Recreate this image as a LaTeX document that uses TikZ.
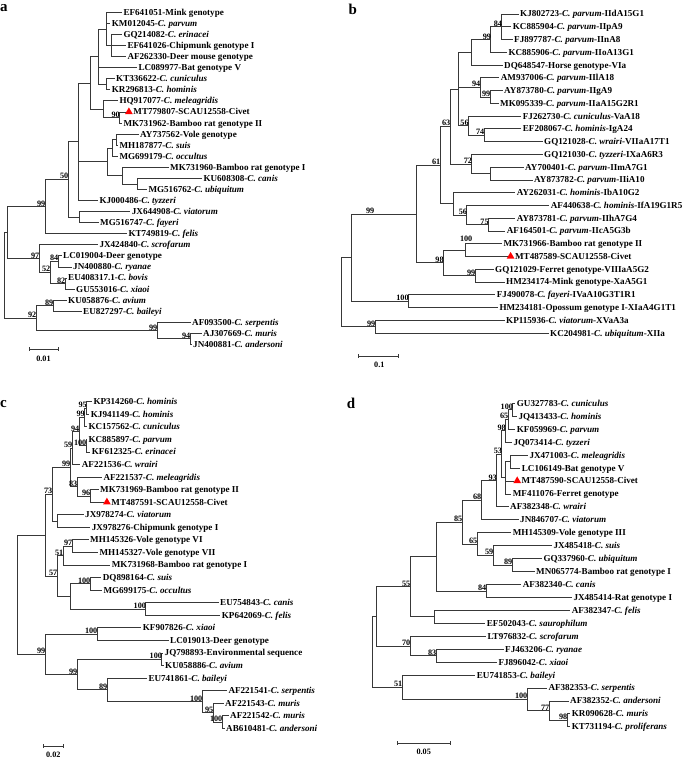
\documentclass[tikz,border=0pt]{standalone}
\usepackage{fontspec}
\setmainfont{Liberation Serif}
\usetikzlibrary{shapes.geometric}
\begin{document}
\begin{tikzpicture}[x=1pt,y=-1pt,
 br/.style={draw=black!78,line width=0.75pt},
 leaf/.style={anchor=west,inner xsep=1.5pt,inner ysep=0pt,text height=6.3pt,text depth=0.3pt,font=\fontsize{9.1}{10}\selectfont\bfseries},
 bs/.style={anchor=base east,inner sep=0pt,font=\fontsize{8.2}{9}\selectfont\bfseries},
 tri/.style={regular polygon,regular polygon sides=3,fill=red,draw=none,minimum size=9pt,inner sep=0pt},
 plab/.style={anchor=base west,inner sep=0pt,font=\fontsize{15}{16}\selectfont\bfseries},
 sc/.style={inner sep=0pt,font=\fontsize{8.2}{9}\selectfont\bfseries}]
\path[use as bounding box,fill=white] (0,0) rectangle (685,760);

% ================= panel a =================
\node[plab] (pa) at (0,12) {a};
\foreach \i/\x/\t in {0/121.8/{EF641051-Mink genotype},1/110.2/{KM012045-\textit{C. parvum}},2/121.8/{GQ214082-\textit{C. erinacei}},3/125.8/{EF641026-Chipmunk genotype I},4/125.8/{AF262330-Deer mouse genotype},5/136.8/{LC089977-Bat genotype V},6/114.5/{KT336622-\textit{C. cuniculus}},7/110.2/{KR296813-\textit{C. hominis}},8/117.8/{HQ917077-\textit{C. meleagridis}},10/121.8/{MK731962-Bamboo rat genotype II},11/138.5/{AY737562-Vole genotype},12/117.8/{MH187877-\textit{C. suis}},13/117.8/{MG699179-\textit{C. occultus}},14/168.5/{MK731960-Bamboo rat genotype I},15/201.8/{KU608308-\textit{C. canis}},16/146.8/{MG516762-\textit{C. ubiquitum}},17/97.8/{KJ000486-\textit{C. tyzzeri}},18/130.2/{JX644908-\textit{C. viatorum}},19/98.5/{MG516747-\textit{C. fayeri}},20/126.8/{KT749819-\textit{C. felis}},21/97.8/{JX424840-\textit{C. scrofarum}},22/61.5/{LC019004-Deer genotype},23/71.5/{JN400880-\textit{C. ryanae}},24/66.5/{EU408317.1-\textit{C. bovis}},25/74.5/{GU553016-\textit{C. xiaoi}},26/66.5/{KU058876-\textit{C. avium}},27/81.5/{EU827297-\textit{C. baileyi}},28/190.5/{AF093500-\textit{C. serpentis}},29/201.5/{AJ307669-\textit{C. muris}},30/191.5/{JN400881-\textit{C. andersoni}}}
  \node[leaf] (aL\i) at (\x,{12.3+11.07*\i}) {\t};
\node[tri] (aT) at (128.9,111.9) {};
\node[leaf] (aL9) at (aT.east) {MT779807-SCAU12558-Civet};
\coordinate (aN1) at (106,28.9);
\coordinate (aN2) at (111,45.5);
\coordinate (aN3) at (106,84.25);
\coordinate (aN4) at (98,56.6);
\coordinate (aN5) at (119.5,117.5);
\coordinate (aN6) at (103,109.2);
\coordinate (aN7) at (90,82.9);
\coordinate (aN9) at (116,139.6);
\coordinate (aN10) at (112,147.9);
\coordinate (aN11) at (137,183.9);
\coordinate (aN12) at (122,175.6);
\coordinate (aN13) at (107,161.7);
\coordinate (aN14) at (78,141.7);
\coordinate (aN15) at (79,217.1);
\coordinate (aN16) at (68,179.4);
\coordinate (aN17) at (45,206.5);
\coordinate (aN18) at (58,261.3);
\coordinate (aN19) at (65,283.5);
\coordinate (aN20) at (50,272.4);
\coordinate (aN21) at (39,258.6);
\coordinate (aN22) at (7,232.5);
\coordinate (aN23) at (53,305.6);
\coordinate (aN24) at (190,338.8);
\coordinate (aN25) at (157,330.6);
\coordinate (aN26) at (36,318.1);
\coordinate (aR) at (4,275.3);
\foreach \p/\c in {aN1/aL0,aN1/aL1,aN1/aN2,aN2/aL2,aN2/aL3,aN2/aL4,aN3/aL6,aN3/aL7,aN4/aN1,aN4/aL5,aN4/aN3,aN5/aT.west,aN5/aL10,aN6/aL8,aN6/aN5,aN7/aN4,aN7/aN6,aN9/aL11,aN9/aL12,aN10/aN9,aN10/aL13,aN11/aL15,aN11/aL16,aN12/aL14,aN12/aN11,aN13/aN10,aN13/aN12,aN14/aN7,aN14/aN13,aN14/aL17,aN15/aL18,aN15/aL19,aN16/aN14,aN16/aN15,aN17/aN16,aN17/aL20,aN18/aL22,aN18/aL23,aN19/aL24,aN19/aL25,aN20/aN18,aN20/aN19,aN21/aL21,aN21/aN20,aN22/aN17,aN22/aN21,aN23/aL26,aN23/aL27,aN24/aL29,aN24/aL30,aN25/aL28,aN25/aN24,aN26/aN23,aN26/aN25,aR/aN22,aR/aN26}
  \draw[br] (\p) |- (\c);
\foreach \n/\v in {aN5/90,aN16/50,aN17/99,aN18/84,aN20/52,aN19/82,aN21/97,aN23/89,aN26/92,aN25/99,aN24/94}
  \node[bs] (l-\n) at ([shift={(0.5,-0.5)}]\n) {\v};
\coordinate (sa1) at (29,349); \coordinate (sa2) at (58,349);
\draw[br] (sa1) -- (sa2);
\draw[br] ([yshift=2pt]sa1) -- ([yshift=-2pt]sa1);
\draw[br] ([yshift=2pt]sa2) -- ([yshift=-2pt]sa2);
\node[sc] (sla) at (43.5,359) {0.01};

% ================= panel b =================
\node[plab] (pb) at (348.3,15) {b};
\foreach \i/\x/\t in {0/518.5/{KJ802723-\textit{C. parvum}-IIdA15G1},1/511.2/{KC885904-\textit{C. parvum}-IIpA9},2/512.5/{FJ897787-\textit{C. parvum}-IInA8},3/506.8/{KC885906-\textit{C. parvum}-IIoA13G1},4/502.5/{DQ648547-Horse genotype-VIa},5/499.2/{AM937006-\textit{C. parvum}-IIlA18},6/502.5/{AY873780-\textit{C. parvum}-IIgA9},7/498.5/{MK095339-\textit{C. parvum}-IIaA15G2R1},8/521.2/{FJ262730-\textit{C. cuniculus}-VaA18},9/521.2/{EF208067-\textit{C. hominis}-IgA24},10/542.5/{GQ121028-\textit{C. wrairi}-VIIaA17T1},11/542.5/{GQ121030-\textit{C. tyzzeri}-IXaA6R3},12/523.5/{AY700401-\textit{C. parvum}-IImA7G1},13/532.5/{AY873782-\textit{C. parvum}-IIiA10},14/515.2/{AY262031-\textit{C. hominis}-IbA10G2},15/549.2/{AF440638-\textit{C. hominis}-IfA19G1R5},16/515.2/{AY873781-\textit{C. parvum}-IIhA7G4},17/505.2/{AF164501-\textit{C. parvum}-IIcA5G3b},18/501.8/{MK731966-Bamboo rat genotype II},20/493.5/{GQ121029-Ferret genotype-VIIIaA5G2},21/504.5/{HM234174-Mink genotype-XaA5G1},22/495.2/{FJ490078-\textit{C. fayeri}-IVaA10G3T1R1},23/497.8/{HM234181-Opossum genotype I-XIaA4G1T1},24/504.5/{KP115936-\textit{C. viatorum}-XVaA3a},25/548.5/{KC204981-\textit{C. ubiquitum}-XIIa}}
  \node[leaf] (bL\i) at (\x,{14+12.76*\i}) {\t};
\node[tri] (bT) at (510.6,256.4) {};
\node[leaf] (bL19) at (bT.east) {MT487589-SCAU12558-Civet};
\coordinate (bN84) at (501.7,26.8);
\coordinate (bN99a) at (490.7,39.55);
\coordinate (bNa3) at (471.7,52.3);
\coordinate (bN99b) at (490,96.95);
\coordinate (bN94) at (480,87.4);
\coordinate (bN74) at (484,135.2);
\coordinate (bN56a) at (468.3,125.65);
\coordinate (bNa2) at (458.3,88.98);
\coordinate (bNm) at (490,173.5);
\coordinate (bN72) at (471.7,163.95);
\coordinate (bN63) at (450,126.47);
\coordinate (bN75) at (488.3,224.55);
\coordinate (bN56b) at (466.7,214.98);
\coordinate (bNh) at (453.3,203.79);
\coordinate (bN61) at (440,165.13);
\coordinate (bN100b) at (465,250.05);
\coordinate (bN99c) at (475,275.6);
\coordinate (bN98) at (443.3,262.83);
\coordinate (bNbig) at (416.7,213.98);
\coordinate (bN100f) at (408.3,301.1);
\coordinate (bNr2) at (351.7,257.54);
\coordinate (bN99v) at (375,326.6);
\coordinate (bR) at (341,292.07);
\foreach \p/\c in {bN84/bL0,bN84/bL1,bN84/bL2,bN99a/bN84,bN99a/bL3,bNa3/bN99a,bNa3/bL4,bN99b/bL6,bN99b/bL7,bN94/bL5,bN94/bN99b,bN74/bL9,bN74/bL10,bN56a/bL8,bN56a/bN74,bNa2/bNa3,bNa2/bN94,bNa2/bN56a,bNm/bL12,bNm/bL13,bN72/bL11,bN72/bNm,bN63/bNa2,bN63/bN72,bN75/bL16,bN75/bL17,bN56b/bL15,bN56b/bN75,bNh/bL14,bNh/bN56b,bN61/bN63,bN61/bNh,bN100b/bL18,bN100b/bT.west,bN99c/bL20,bN99c/bL21,bN98/bN100b,bN98/bN99c,bNbig/bN61,bNbig/bN98,bN100f/bL22,bN100f/bL23,bNr2/bNbig,bNr2/bN100f,bN99v/bL24,bN99v/bL25,bR/bNr2,bR/bN99v}
  \draw[br] (\p) |- (\c);
\foreach \n/\v in {bN84/84,bN99a/99,bN94/94,bN99b/99,bN56a/56,bN74/74,bN63/63,bN72/72,bN61/61,bN56b/56,bN75/75,bN98/98,bN99c/99,bN100f/100,bN99v/99}
  \node[bs] (l-\n) at ([shift={(0.5,-0.5)}]\n) {\v};
\node[bs] (l-bNbig) at (374.5,213) {99};
\node[bs] (l-bN100b) at (472.5,241) {100};
\coordinate (sb1) at (358.3,356); \coordinate (sb2) at (398.3,356);
\draw[br] (sb1) -- (sb2);
\draw[br] ([yshift=2pt]sb1) -- ([yshift=-2pt]sb1);
\draw[br] ([yshift=2pt]sb2) -- ([yshift=-2pt]sb2);
\node[sc] (slb) at (379.3,365) {0.1};

% ================= panel c =================
\node[plab] (pc) at (0,407) {c};
\foreach \i/\x/\t in {0/91.8/{KP314260-\textit{C. hominis}},1/89.2/{KJ941149-\textit{C. hominis}},2/86.8/{KC157562-\textit{C. cuniculus}},3/86.8/{KC885897-\textit{C. parvum}},4/90.2/{KF612325-\textit{C. erinacei}},5/80.2/{AF221536-\textit{C. wrairi}},6/101.8/{AF221537-\textit{C. meleagridis}},7/98.5/{MK731969-Bamboo rat genotype II},9/83.5/{JX978274-\textit{C. viatorum}},10/90.2/{JX978276-Chipmunk genotype I},11/88.5/{MH145326-Vole genotype VI},12/97.8/{MH145327-Vole genotype VII},13/110.2/{MK731968-Bamboo rat genotype I},14/101.2/{DQ898164-\textit{C. suis}},15/101.8/{MG699175-\textit{C. occultus}},16/218.5/{EU754843-\textit{C. canis}},17/220.2/{KP642069-\textit{C. felis}},18/141.2/{KF907826-\textit{C. xiaoi}},19/168.5/{LC019013-Deer genotype},20/163/{JQ798893-Environmental sequence},21/163.5/{KU058886-\textit{C. avium}},22/146.8/{EU741861-\textit{C. baileyi}},23/226.8/{AF221541-\textit{C. serpentis}},24/223.5/{AF221543-\textit{C. muris}},25/228.5/{AF221542-\textit{C. muris}},26/224.5/{AB610481-\textit{C. andersoni}}}
  \node[leaf] (cL\i) at (\x,{401.7+12.56*\i}) {\t};
\node[tri] (cT) at (106.9,502.2) {};
\node[leaf] (cL8) at (cT.east) {MT487591-SCAU12558-Civet};
\coordinate (cN1) at (86.5,408);
\coordinate (cN2) at (84.5,417.4);
\coordinate (cN3) at (86,445.65);
\coordinate (cN4) at (79,431.53);
\coordinate (cN5) at (72,448);
\coordinate (cN7) at (90,495.9);
\coordinate (cN6) at (77,486.5);
\coordinate (cN8) at (70,467.25);
\coordinate (cN10) at (57.3,521);
\coordinate (cN9) at (52,494.1);
\coordinate (cN11) at (72,546.15);
\coordinate (cN12) at (63,555.58);
\coordinate (cN15) at (90,583.8);
\coordinate (cN16) at (145.7,608.95);
\coordinate (cN14) at (70,596.38);
\coordinate (cN13) at (57,575.98);
\coordinate (cN17) at (45,535.04);
\coordinate (cN20) at (97,634.05);
\coordinate (cN22) at (161.7,659.2);
\coordinate (cN26) at (222,722);
\coordinate (cN25) at (213,712.55);
\coordinate (cN24) at (202,701.58);
\coordinate (cN23) at (107,689.79);
\coordinate (cN21) at (77,674.5);
\coordinate (cN19) at (45,654.28);
\coordinate (cN18) at (17,594.66);
\foreach \p/\c in {cN1/cL0,cN1/cL1,cN2/cN1,cN2/cL2,cN3/cL3,cN3/cL4,cN4/cN2,cN4/cN3,cN5/cN4,cN5/cL5,cN7/cL7,cN7/cT.west,cN6/cL6,cN6/cN7,cN8/cN5,cN8/cN6,cN10/cL9,cN10/cL10,cN9/cN8,cN9/cN10,cN11/cL11,cN11/cL12,cN12/cN11,cN12/cL13,cN15/cL14,cN15/cL15,cN16/cL16,cN16/cL17,cN14/cN15,cN14/cN16,cN13/cN12,cN13/cN14,cN17/cN9,cN17/cN13,cN20/cL18,cN20/cL19,cN22/cL20,cN22/cL21,cN26/cL25,cN26/cL26,cN25/cL24,cN25/cN26,cN24/cL23,cN24/cN25,cN23/cL22,cN23/cN24,cN21/cN22,cN21/cN23,cN19/cN20,cN19/cN21,cN18/cN17,cN18/cN19}
  \draw[br] (\p) |- (\c);
\foreach \n/\v in {cN1/95,cN2/99,cN4/94,cN3/100,cN5/59,cN8/99,cN6/83,cN7/96,cN9/73,cN11/97,cN12/51,cN13/57,cN15/100,cN16/100,cN20/100,cN19/99,cN22/100,cN21/99,cN23/89,cN24/100,cN25/95,cN26/100}
  \node[bs] (l-\n) at ([shift={(0.5,-0.5)}]\n) {\v};
\coordinate (sc1) at (43.3,746); \coordinate (sc2) at (63.3,746);
\draw[br] (sc1) -- (sc2);
\draw[br] ([yshift=2pt]sc1) -- ([yshift=-2pt]sc1);
\draw[br] ([yshift=2pt]sc2) -- ([yshift=-2pt]sc2);
\node[sc] (slc) at (53.3,755) {0.02};

% ================= panel d =================
\node[plab] (pd) at (346.7,408.3) {d};
\foreach \i/\x/\t in {0/515.2/{GU327783-\textit{C. cuniculus}},1/516.8/{JQ413433-\textit{C. hominis}},2/515.2/{KF059969-\textit{C. parvum}},3/511.8/{JQ073414-\textit{C. tyzzeri}},4/527.8/{JX471003-\textit{C. meleagridis}},5/520.2/{LC106149-Bat genotype V},7/511.2/{MF411076-Ferret genotype},8/508.5/{AF382348-\textit{C. wrairi}},9/518.5/{JN846707-\textit{C. viatorum}},10/511.2/{MH145309-Vole genotype III},11/551.8/{JX485418-\textit{C. suis}},12/541.8/{GQ337960-\textit{C. ubiquitum}},13/534.5/{MN065774-Bamboo rat genotype I},14/521.2/{AF382340-\textit{C. canis}},15/571.8/{JX485414-Rat genotype I},16/570.2/{AF382347-\textit{C. felis}},17/485.2/{EF502043-\textit{C. saurophilum}},18/485.8/{LT976832-\textit{C. scrofarum}},19/503.5/{FJ463206-\textit{C. ryanae}},20/496.8/{FJ896042-\textit{C. xiaoi}},21/475.2/{EU741853-\textit{C. baileyi}},22/546.8/{AF382353-\textit{C. serpentis}},23/568.5/{AF382352-\textit{C. andersoni}},24/570.2/{KR090628-\textit{C. muris}},25/570.2/{KT731194-\textit{C. proliferans}}}
  \node[leaf] (dL\i) at (\x,{403.3+12.94*\i}) {\t};
\node[tri] (dT) at (517.2,480.9) {};
\node[leaf] (dL6) at (dT.east) {MT487590-SCAU12558-Civet};
\coordinate (dN1) at (512.7,409.75);
\coordinate (dN2) at (508,419.48);
\coordinate (dN3) at (505.5,430.79);
\coordinate (dN4) at (510,461.55);
\coordinate (dNx) at (505,477.73);
\coordinate (dN5) at (501.7,454.26);
\coordinate (dN6) at (496.5,480.53);
\coordinate (dN7) at (481,500.17);
\coordinate (dN11) at (512,565.05);
\coordinate (dN10) at (493,555.33);
\coordinate (dN9) at (477,544);
\coordinate (dN8) at (462,522.09);
\coordinate (dN12) at (486,590.95);
\coordinate (dN13) at (436.7,556.52);
\coordinate (dN15) at (434,616.8);
\coordinate (dN14) at (410,586.66);
\coordinate (dN17) at (436,655.65);
\coordinate (dN16) at (410,645.93);
\coordinate (dN18) at (376.7,616.3);
\coordinate (dN23) at (567,720.35);
\coordinate (dN22) at (549,710.63);
\coordinate (dN21) at (527,699.3);
\coordinate (dN20) at (402,687.15);
\coordinate (dR) at (372.3,651.7);
\foreach \p/\c in {dN1/dL0,dN1/dL1,dN2/dN1,dN2/dL2,dN3/dN2,dN3/dL3,dN4/dL4,dN4/dL5,dNx/dN4,dNx/dT.west,dNx/dL7,dN5/dN3,dN5/dNx,dN6/dN5,dN6/dL8,dN7/dN6,dN7/dL9,dN11/dL12,dN11/dL13,dN10/dL11,dN10/dN11,dN9/dL10,dN9/dN10,dN8/dN7,dN8/dN9,dN12/dL14,dN12/dL15,dN13/dN8,dN13/dN12,dN15/dL16,dN15/dL17,dN14/dN13,dN14/dN15,dN17/dL19,dN17/dL20,dN16/dL18,dN16/dN17,dN18/dN14,dN18/dN16,dN23/dL24,dN23/dL25,dN22/dL23,dN22/dN23,dN21/dL22,dN21/dN22,dN20/dL21,dN20/dN21,dR/dN18,dR/dN20}
  \draw[br] (\p) |- (\c);
\foreach \n/\v in {dN1/100,dN2/65,dN3/98,dN5/53,dN6/93,dN7/68,dN8/85,dN9/65,dN10/59,dN11/89,dN12/84,dN14/55,dN16/70,dN17/83,dN20/51,dN21/100,dN22/77,dN23/98}
  \node[bs] (l-\n) at ([shift={(0.5,-0.5)}]\n) {\v};
\coordinate (sd1) at (397.3,743.3); \coordinate (sd2) at (450,743.3);
\draw[br] (sd1) -- (sd2);
\draw[br] ([yshift=2pt]sd1) -- ([yshift=-2pt]sd1);
\draw[br] ([yshift=2pt]sd2) -- ([yshift=-2pt]sd2);
\node[sc] (sld) at (423.7,752) {0.05};
\end{tikzpicture}
\end{document}
